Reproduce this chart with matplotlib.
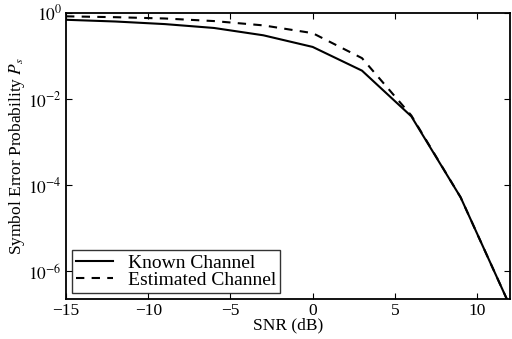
import numpy as np
import matplotlib
matplotlib.use("Agg")
import matplotlib.pyplot as plt

plt.rcParams['font.family'] = ['Liberation Serif', 'DejaVu Serif']
plt.rcParams['mathtext.fontset'] = 'stix'

snr = [-15, -12, -9, -6, -3, 0, 3, 6, 9, 12]
# log10 of symbol error probability
known_log = [-0.16, -0.2, -0.26, -0.35, -0.52, -0.79, -1.34, -2.4, -4.28, -6.8]
est_log = [-0.08, -0.1, -0.13, -0.19, -0.29, -0.47, -1.05, -2.38, -4.28, -6.8]

known = 10.0 ** np.array(known_log)
est = 10.0 ** np.array(est_log)

fig = plt.figure(figsize=(5.12, 3.39), dpi=100)
ax = fig.add_axes([0.129, 0.118, 0.867, 0.844])

ax.semilogy(snr, known, 'k-', lw=1.5, label='Known Channel')
ax.semilogy(snr, est, color='k', ls=(0, (4, 3.5)), lw=1.5, label='Estimated Channel')

ax.set_xlim(-15, 12)
ax.set_ylim(2.3e-7, 1.0)
ax.set_xticks([-15, -10, -5, 0, 5, 10])
ax.set_xticklabels(['\u221215', '\u221210', '\u22125', '0', '5', '10'])
ax.set_yticks([1e0, 1e-2, 1e-4, 1e-6])
ax.set_yticklabels([r'$10^{0}$', r'$10^{-2}$', r'$10^{-4}$', r'$10^{-6}$'])
ax.minorticks_off()
ax.tick_params(direction='in', labelsize=12.5, length=4, pad=3,
               top=True, right=True)

ax.set_xlabel('SNR (dB)', fontsize=12.5, labelpad=-1)
ax.set_ylabel(r'Symbol Error Probability $P_s$', fontsize=12.5, labelpad=1)

leg = ax.legend(loc='lower left', fontsize=14, frameon=True, fancybox=False,
                edgecolor='k', borderpad=0.2, handlelength=1.9,
                handletextpad=0.8, labelspacing=0.0, borderaxespad=0.3)
leg.get_frame().set_linewidth(1.0)

for s in ax.spines.values():
    s.set_linewidth(1.3)

fig.savefig('out.png', dpi=100)
